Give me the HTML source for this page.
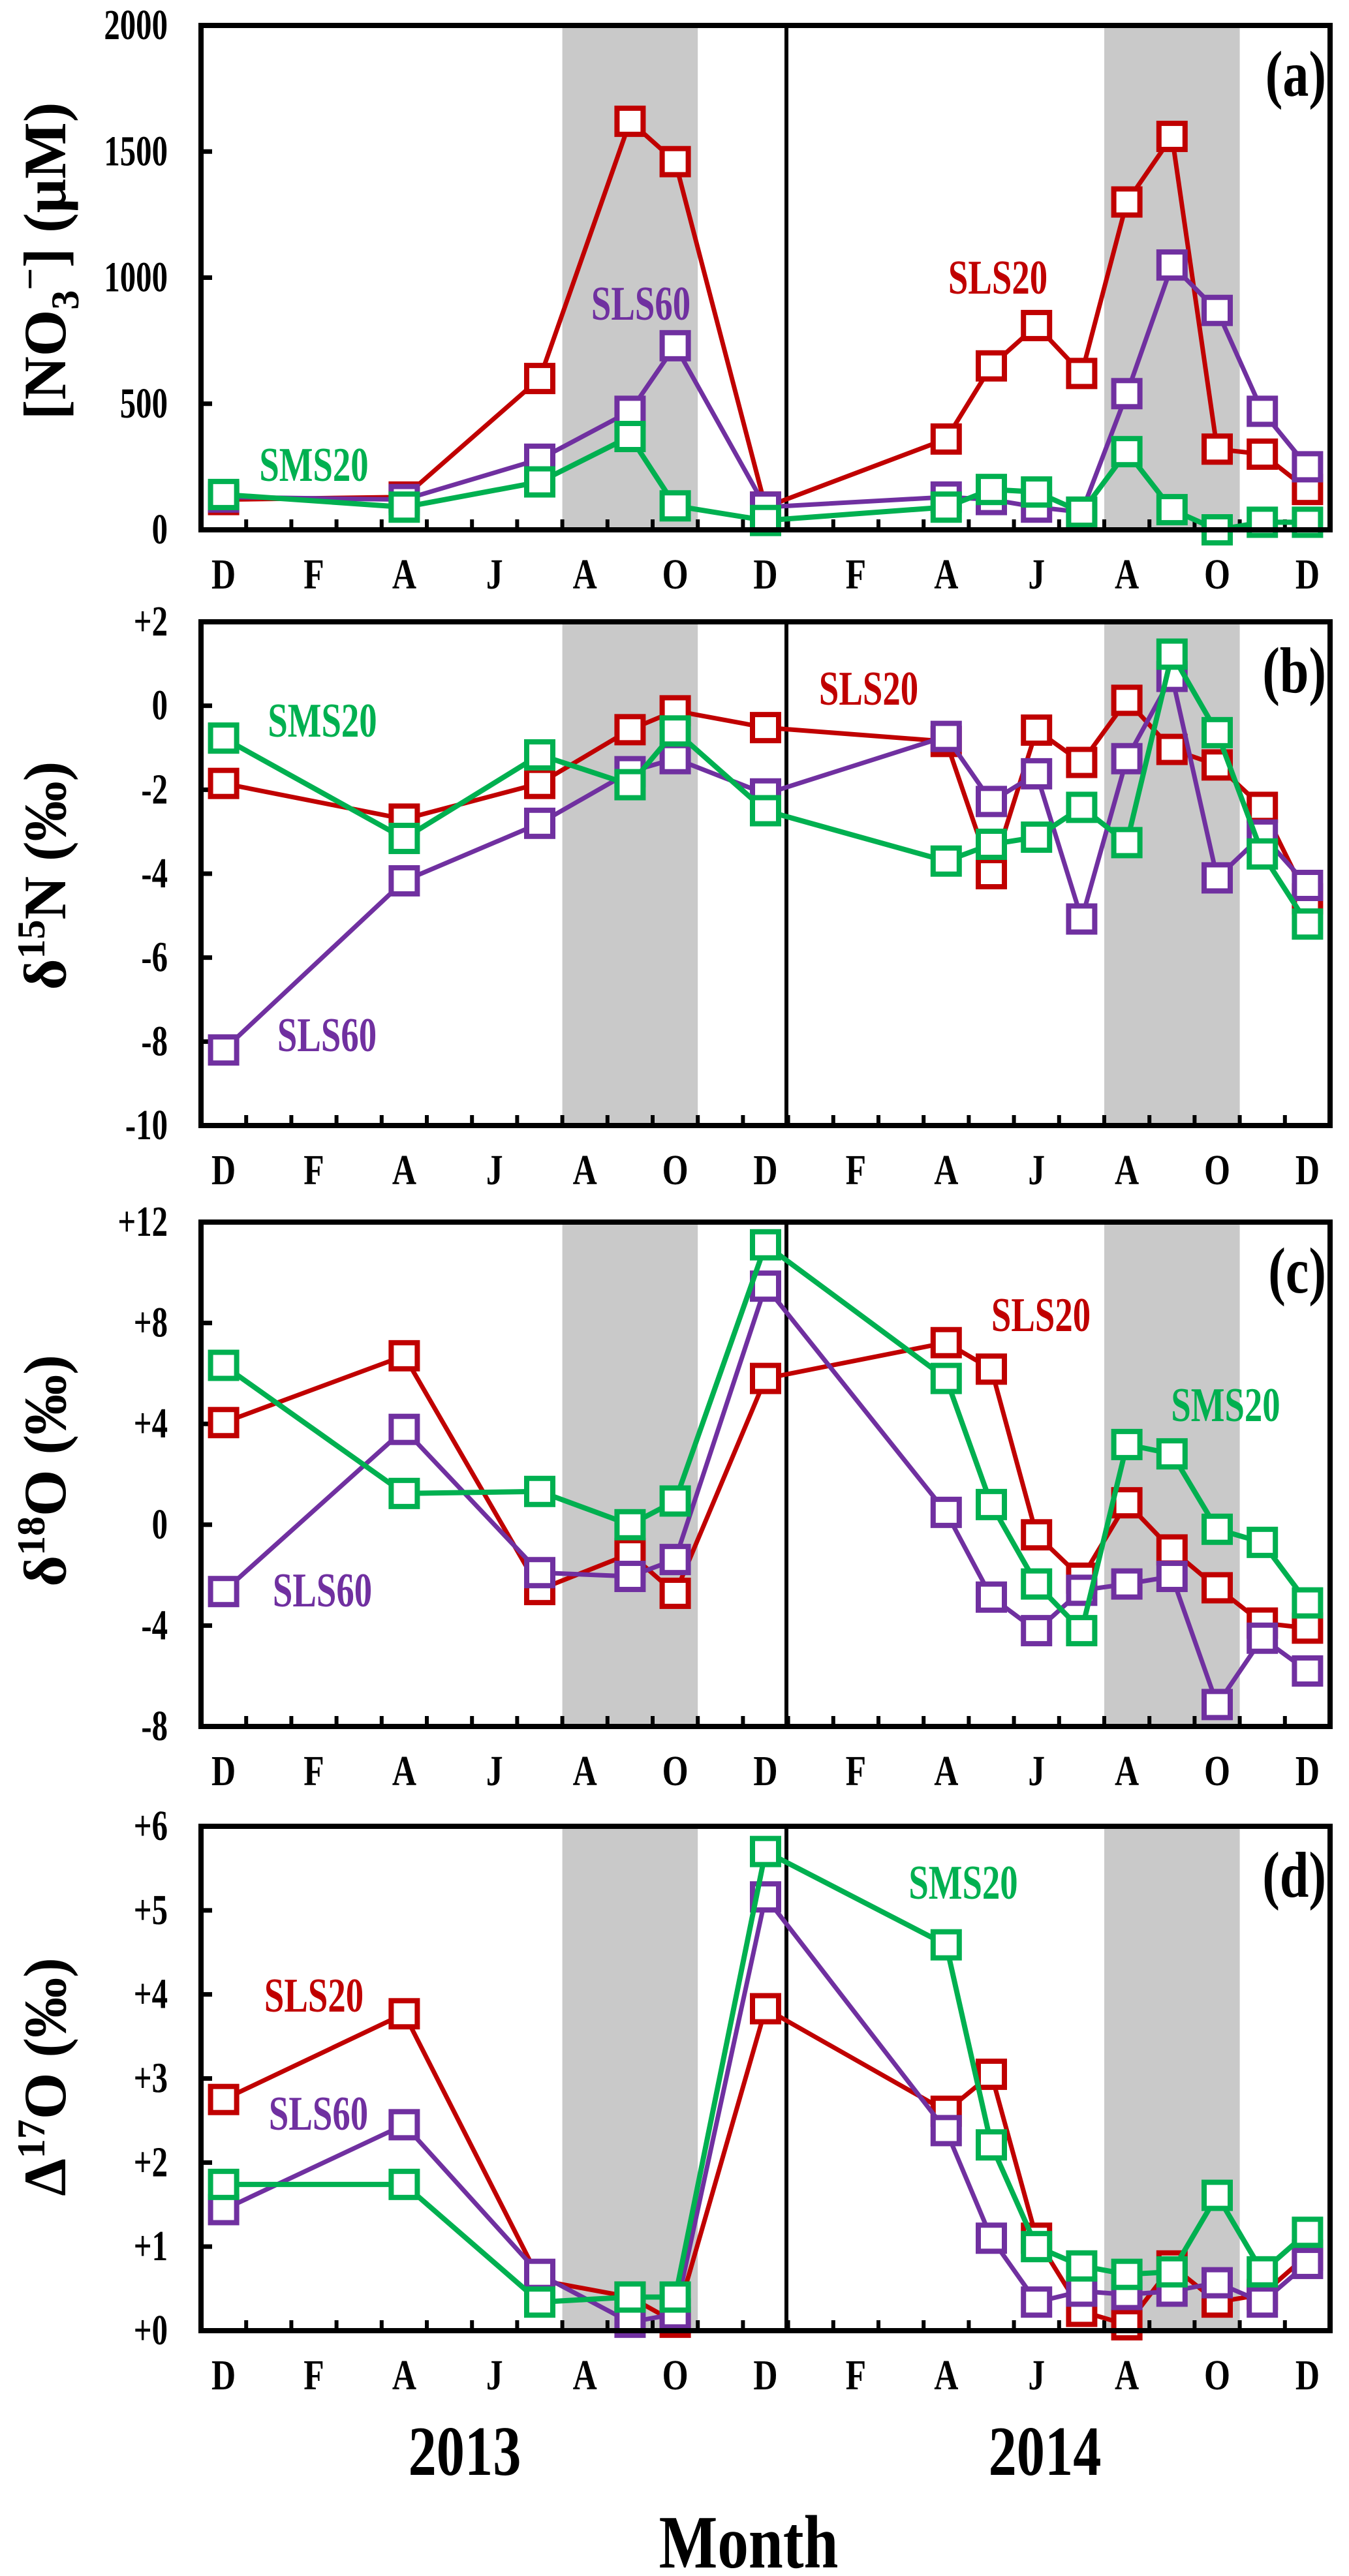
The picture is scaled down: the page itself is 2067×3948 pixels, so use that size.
<!DOCTYPE html>
<html><head><meta charset="utf-8"><style>
html,body{margin:0;padding:0;background:#fff;}
svg{display:block;font-family:"Liberation Serif",serif;font-weight:bold;}
</style></head>
<body>
<svg id="chart" width="2067" height="3948" viewBox="0 0 2067 3948" xmlns="http://www.w3.org/2000/svg"></svg>
<script>
const monthLabels = ["D","","F","","A","","J","","A","","O","","D","","F","","A","","J","","A","","O","","D"];
const idx = [0,4,7,9,10,12,16,17,18,19,20,21,22,23,24];
const nitrateSLS20 = [120,130,600,1620,1460,90,360,650,810,620,1300,1560,320,300,160];
const nitrateSLS60 = [130,120,280,470,730,90,130,120,90,70,540,1050,870,470,250];
const nitrateSMS20 = [140,90,190,370,95,37,90,160,150,70,310,80,0,30,30];
const d15NSLS20 = [-1.85,-2.7,-1.85,-0.57,-0.12,-0.52,-0.85,-4.0,-0.58,-1.35,0.13,-1.04,-1.41,-2.42,-4.6];
const d15NSLS60 = [-8.2,-4.17,-2.8,-1.57,-1.26,-2.1,-0.73,-2.28,-1.62,-5.08,-1.26,0.7,-4.1,-3.08,-4.28];
const d15NSMS20 = [-0.77,-3.16,-1.17,-1.88,-0.6,-2.5,-3.7,-3.3,-3.13,-2.42,-3.26,1.23,-0.64,-3.53,-5.2];
const d18OSLS20 = [4.05,6.7,-2.57,-1.15,-2.72,5.8,7.22,6.17,-0.4,-2.12,0.87,-1.0,-2.5,-3.9,-4.1];
const d18OSLS60 = [-2.65,3.78,-1.9,-2.05,-1.38,9.46,0.49,-2.87,-4.2,-2.6,-2.35,-2.05,-7.13,-4.5,-5.8];
const d18OSMS20 = [6.32,1.24,1.32,0,0.94,11.1,5.8,0.8,-2.35,-4.2,3.18,2.81,-0.18,-0.7,-3.1];
const D17OSLS20 = [2.75,3.77,0.6,0.4,0.1,3.83,2.61,3.05,1.1,0.23,0.07,0.77,0.34,0.43,0.9];
const D17OSLS60 = [1.44,2.45,0.67,0.1,0.2,5.16,2.38,1.1,0.34,0.47,0.43,0.47,0.57,0.34,0.8];
const D17OSMS20 = [1.74,1.74,0.34,0.4,0.4,5.7,4.59,2.21,1.0,0.77,0.67,0.7,1.61,0.7,1.17];
const ticksA = [0,500,1000,1500,2000], tickLabA = ["0","500","1000","1500","2000"];
const ticksB = [2,0,-2,-4,-6,-8,-10], tickLabB = ["+2","0","-2","-4","-6","-8","-10"];
const ticksC = [12,8,4,0,-4,-8], tickLabC = ["+12","+8","+4","0","-4","-8"];
const ticksD = [6,5,4,3,2,1,0], tickLabD = ["+6","+5","+4","+3","+2","+1","+0"];

const NS="http://www.w3.org/2000/svg";
const svg=document.getElementById('chart');
const RED="#C00000", PUR="#7030A0", GRN="#00B050";
const X0=308, X1=2038, NM=25, MW=(X1-X0)/NM;
function xs(i){return X0+(i+0.5)*MW;}
function mk(tag,attrs,parent){const e=document.createElementNS(NS,tag);for(const k in attrs)e.setAttribute(k,attrs[k]);(parent||svg).appendChild(e);return e;}
function txt(parent,x,y,str,size,anchor,fill,sx){
  const t=mk('text',{x:0,y:0,transform:`translate(${x},${y}) scale(${sx},1)`,"text-anchor":anchor,"font-size":size,fill:fill},parent);
  t.textContent=str;
  return t;
}

const panels=[
 {key:'a',top:39,bot:812,min:0,max:2000,ticks:ticksA,labs:tickLabA,series:[nitrateSLS20,nitrateSLS60,nitrateSMS20],
  notes:[["SMS20",GRN,481,712],["SLS60",PUR,982,465],["SLS20",RED,1529,425]]},
 {key:'b',top:953,bot:1725,min:-10,max:2,ticks:ticksB,labs:tickLabB,series:[d15NSLS20,d15NSLS60,d15NSMS20],
  notes:[["SMS20",GRN,494,1104],["SLS20",RED,1331,1055],["SLS60",PUR,501,1586]]},
 {key:'c',top:1873,bot:2646,min:-8,max:12,ticks:ticksC,labs:tickLabC,series:[d18OSLS20,d18OSLS60,d18OSMS20],
  notes:[["SLS20",RED,1595,2015],["SMS20",GRN,1878,2153],["SLS60",PUR,494,2437]]},
 {key:'d',top:2799,bot:3572,min:0,max:6,ticks:ticksD,labs:tickLabD,series:[D17OSLS20,D17OSLS60,D17OSMS20],
  notes:[["SMS20",GRN,1476,2885],["SLS20",RED,481,3058],["SLS60",PUR,488,3239]]}
];
const titles=[400,1342,2254,3183];
const colors=[RED,PUR,GRN], names=['sls20','sls60','sms20'];

panels.forEach((p,pi)=>{
  const g=mk('g',{});
  
  
  const ys=v=>p.bot-(v-p.min)/(p.max-p.min)*(p.bot-p.top);
  [[8,11],[20,23]].forEach(s=>{
    const r=mk('rect',{x:X0+s[0]*MW,y:p.top,width:(s[1]-s[0])*MW,height:p.bot-p.top,fill:"#C9C9C9"},g);
    
    
  });
  const dv=mk('line',{x1:1205,x2:1205,y1:p.top,y2:p.bot,stroke:"#000","stroke-width":6},g);
  
  
  for(let i=1;i<NM;i++){mk('line',{x1:X0+i*MW,x2:X0+i*MW,y1:p.bot,y2:p.bot-16,stroke:"#000","stroke-width":6},g);}
  p.ticks.forEach((t,ti)=>{
    const y=ys(t);
    mk('line',{x1:X0,x2:X0+17,y1:y,y2:y,stroke:"#000","stroke-width":7},g);
    const tl=txt(g,257,y+21,p.labs[ti],66,"end","#000",0.74);
    
    
  });
  monthLabels.forEach((m,i)=>{ if(!m)return;
    const t=txt(g,xs(i),p.bot+90,m,66,"middle","#000",0.78);
    
    
  });
  p.series.forEach((vals,si)=>{
    const sg=mk('g',{},g);
    
    
    const pts=vals.map((v,k)=>xs(idx[k])+','+ys(v)).join(' ');
    mk('polyline',{points:pts,fill:"none",stroke:colors[si],"stroke-width":si==2?8:7,"stroke-linejoin":"round"},sg);
    vals.forEach((v,k)=>{
      const r=mk('rect',{x:xs(idx[k])-20,y:ys(v)-20,width:40,height:40,fill:"#fff",stroke:colors[si],"stroke-width":8},sg);
      
      
    });
  });
  const fr=mk('rect',{x:X0,y:p.top,width:X1-X0,height:p.bot-p.top,fill:"none",stroke:"#000","stroke-width":8},g);
  
  
  const pl=txt(g,2032,p.top+108,'('+p.key+')',100,"end","#000",0.8);
  
  
  p.notes.forEach(n=>{
    const t=txt(g,n[2],n[3]+25,n[0],74,"middle",n[1],0.74);
    
    
  });
});

function ytitle(cy,build){
  const t=mk('text',{transform:`translate(100,${cy}) rotate(-90)`,"text-anchor":"middle","font-size":92});
  
  
  build(t);
}
function ts(t,s,attrs){const e=mk('tspan',attrs||{},t);e.textContent=s;return e;}
ytitle(titles[0],t=>{ts(t,"[NO");ts(t,"3",{"font-size":60,dy:20});ts(t,"−",{"font-size":60,dy:-54});ts(t,"] (μM)",{dy:34});});
ytitle(titles[1],t=>{ts(t,"δ");ts(t,"15",{"font-size":60,dy:-32});ts(t,"N (‰)",{dy:32});});
ytitle(titles[2],t=>{ts(t,"δ");ts(t,"18",{"font-size":60,dy:-32});ts(t,"O (‰)",{dy:32});});
ytitle(titles[3],t=>{ts(t,"Δ");ts(t,"17",{"font-size":60,dy:-32});ts(t,"O (‰)",{dy:32});});

const y13=txt(svg,712,3793,"2013",108,"middle","#000",0.8);


const y14=txt(svg,1601,3793,"2014",108,"middle","#000",0.8);


const xt=txt(svg,1147,3935,"Month",116,"middle","#000",0.82);


</script>
</body></html>
